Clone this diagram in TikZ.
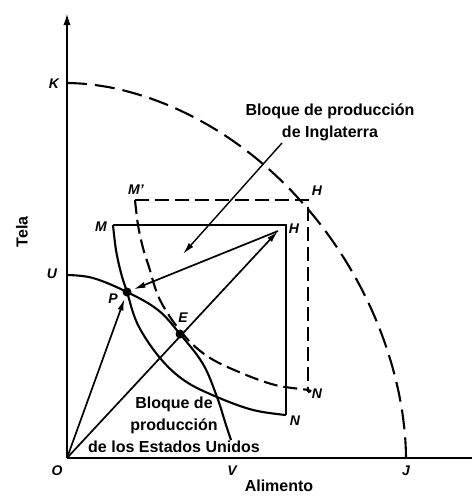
\documentclass[tikz,border=0pt]{standalone}
\usepackage{fontspec}
\setmainfont{Liberation Sans}
\usetikzlibrary{arrows.meta}
\begin{document}
\begin{tikzpicture}[x=1pt,y=-1pt,
  axis/.style={line width=2.8pt},
  curve/.style={line width=2.1pt},
  dsh/.style={line width=2.1pt, dash pattern=on 14pt off 6pt},
  bigdsh/.style={line width=2.1pt, dash pattern=on 20pt off 8pt},
  arr/.style={line width=1.7pt, -{Latex[length=12pt,width=6pt]}},
  lbl/.style={font=\fontsize{14}{14}\selectfont\itshape\bfseries, inner sep=0pt},
  txt/.style={font=\fontsize{16}{22}\selectfont\bfseries, align=center, inner sep=0pt},
  dot/.style={circle, fill, inner sep=0pt, minimum size=9pt}]
\useasboundingbox (0,0) rectangle (472,499);
% key points
\coordinate (O) at (67,458);
\coordinate (Ytop) at (67,11);
\coordinate (Xend) at (472,458);
\coordinate (K) at (67,83);
\coordinate (J) at (406,458);
\coordinate (U) at (67,275);
\coordinate (Vend) at (231,440);
\coordinate (P) at (127,292);
\coordinate (E) at (180,334);
\coordinate (M) at (113,225);
\coordinate (H) at (286,225);
\coordinate (N) at (286,415);
\coordinate (Mp) at (135,200);
\coordinate (Hp) at (308,200);
\coordinate (Np) at (308,392);
\coordinate (h) at (278,231);
\coordinate (tip) at (183,254);
\coordinate (lblend) at (282,143);
% axes
\draw[axis, -{Latex[length=14pt,width=7pt]}] (O) -- (Ytop);
\draw[axis] (O) -- (Xend);
% world frontier K-J
\draw[bigdsh] (K) -- plot[domain=89.5:0.5, samples=70, variable=\t]
  ({67+339*pow(cos(\t),1.081)}, {458-375*pow(sin(\t),1.081)}) -- (J);
% US frontier
\draw[curve] plot[smooth, tension=0.6] coordinates
  {(U) (93,278) (P) (158,310) (E) (203,364) (217,397) (226,425) (Vend)};
% England block (solid)
\draw[curve] (M) -- (H) -- (N);
\draw[curve] plot[smooth, tension=0.6] coordinates
  {(113,225) (116,250) (121,273) (127,292) (138,325) (160,358) (185,381) (217,397) (253,410) (286,415)};
% England block (dashed, shifted)
\draw[dsh] (Mp) -- (Hp) -- (Np);
\begin{scope}[shift={(22,-25)}]
\draw[dsh] plot[smooth, tension=0.6] coordinates
  {(113,225) (116,250) (121,273) (127,292) (138,325) (160,358) (185,381) (217,397) (253,410) (286,415) (286,417)};
\end{scope}
% arrows
\draw[arr, shorten >=7pt] (O) -- (P);
\draw[arr] (O) -- (h);
\draw[arr, shorten >=7pt] (h) -- (P);
\draw[arr, line width=1.4pt] (lblend) -- (tip);
% dots
\node[dot] (Pd) at (P) {};
\node[dot] (Ed) at (E) {};
% point labels
\node[lbl] (lK) at (54,84) {K};
\node[lbl] (lU) at (52,274) {U};
\node[lbl] (lO) at (57,471) {O};
\node[lbl] (lV) at (232,471) {V};
\node[lbl] (lJ) at (406,471) {J};
\node[lbl] (lM) at (101,227) {M};
\node[lbl] (lMp) at (136,190) {M'};
\node[lbl] (lHp) at (317,191) {H};
\node[lbl] (lH) at (294,229) {H};
\node[lbl] (lN) at (295,421) {N};
\node[lbl] (lNp) at (317,394) {N};
\node[lbl] (lP) at (113,299) {P};
\node[lbl] (lE) at (183,318) {E};
% texts
\node[txt, rotate=90] (tela) at (22,232) {Tela};
\node[txt] (alim) at (279,486) {Alimento};
\node[txt] (ing) at (330,122) {Bloque de producción\\de Inglaterra};
\node[txt] (us) at (174,425) {Bloque de\\producción\\de los Estados Unidos};
\end{tikzpicture}
\end{document}
